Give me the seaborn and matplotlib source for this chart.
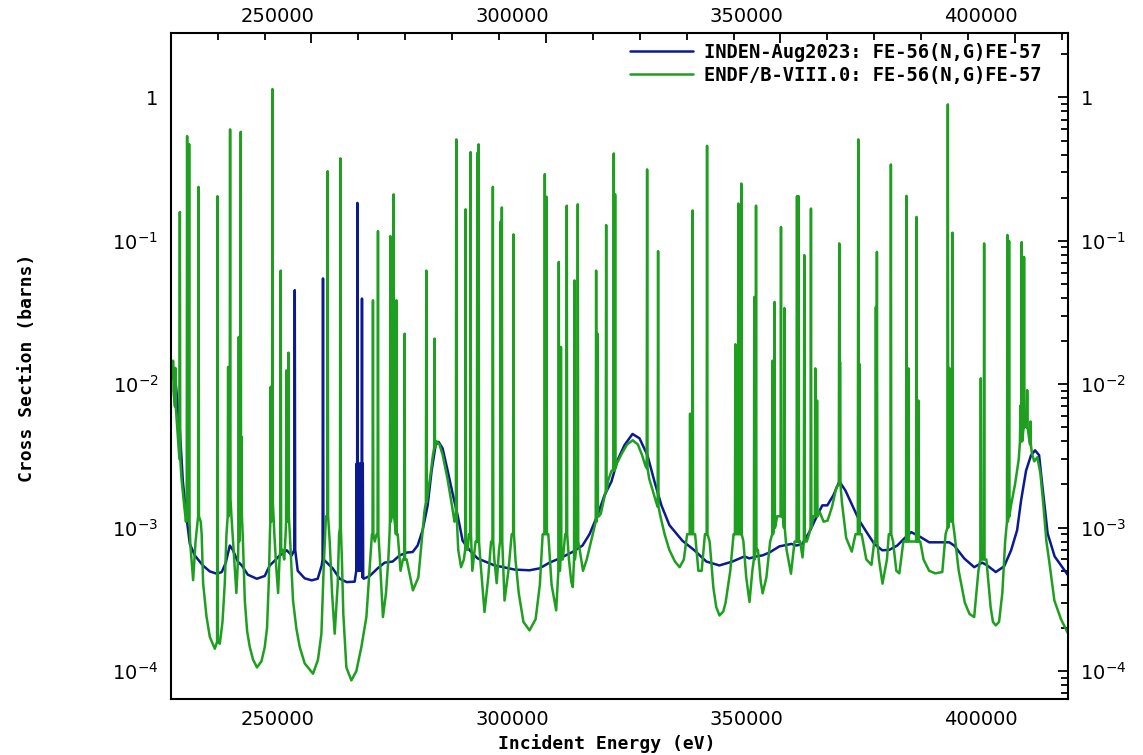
import numpy as np
import pandas as pd
import matplotlib
matplotlib.use("Agg")
import matplotlib.pyplot as plt
from matplotlib.ticker import MultipleLocator, LogLocator, NullFormatter
from matplotlib.transforms import ScaledTranslation
import seaborn as sns

# ---------------- data ----------------
# ENDF/B-VIII.0 continuum (between resonances): energy (eV), cross section (b)
endf_base_E = [220000, 220600, 221300, 222300, 222900, 223250, 224200, 224780, 225300, 226400,
               226600, 226910, 227630, 228340, 229400, 230470, 231040, 231530, 231890, 232450,
               232950, 233400, 234000, 234350, 234700, 235350, 235800, 236290, 236860, 237560,
               238400, 239350, 240050, 240540, 240900, 241150, 241500, 242100, 242500, 242900,
               243200, 243800, 244200, 244500, 244900, 245400, 246080, 246800, 247510, 248570,
               250340, 251400, 252130, 252620, 253100, 253900, 254400, 254960, 255600, 255900,
               256500, 256800, 257450, 258520, 259580, 260650, 261720, 262420, 262900, 263500,
               263900, 264600, 265250, 265900, 266400, 266650, 267150, 267900, 268400, 269000,
               269500, 270300, 271640, 272800, 273500, 274100, 274900, 275500, 275900, 276700,
               277300, 278000, 279000, 280000, 280500, 281300, 281900, 282500, 283300, 283600,
               284300, 285000, 286000, 286900, 287700, 288300, 289000, 289500, 290000, 291170,
               292000, 292700, 293500, 294200, 295200, 296500, 297800, 298700, 299300, 300500,
               301200, 302180, 302500, 303000, 303600, 304100, 304900, 305400, 305720, 306400,
               307200, 307900, 308700, 309600, 310300, 311300, 311700, 312400, 313200, 314000,
               315100, 316200, 317300, 318500, 319600, 320500, 321200, 322000, 322800, 323500,
               324400, 325300, 326300, 327500, 328500, 329400, 330100, 331800, 332500, 333200,
               333900, 334900, 335700, 336300, 337000, 337800, 338300, 339300, 340000, 342100,
               342700, 343400, 344000, 345200, 345800, 346200, 347000, 347800, 349300, 350500,
               351300, 352240, 353000, 354200, 354700, 355600, 356100, 357000, 358300, 359200,
               360040, 361000, 361900, 363100, 364000, 365200, 366000, 367300, 368300, 369400,
               370000, 371000, 371750, 372700, 373100, 374000, 374700, 375340, 376200, 377800,
               378500, 379800, 380500, 381700, 383000, 384500, 385200, 387100, 388000, 389300,
               390300, 391300, 392200, 393000, 393900, 394800, 395300, 395900, 396600, 397300,
               397900, 399100, 400000, 400800, 402200, 403000, 403600, 404100, 404770, 405400,
               406000, 406700, 407300, 408400, 409800, 411300]
endf_base_XS = [0.012, 0.009, 0.0055, 0.0022, 0.0014, 0.0011, 0.00075, 0.00043, 0.0008, 0.0011,
                0.0009, 0.00041, 0.00024, 0.000173, 0.000143, 0.000155, 0.00022, 0.00041, 0.0009, 0.0016,
                0.0012, 0.0007, 0.00035, 0.0006, 0.0012, 0.0009, 0.00031, 0.00019, 0.000147, 0.00012,
                0.000106, 0.000117, 0.000147, 0.0002, 0.00041, 0.0009, 0.0013, 0.0009, 0.00053, 0.00035,
                0.0006, 0.0007, 0.0006, 0.0009, 0.0014, 0.0009, 0.00031, 0.000197, 0.000147, 0.000113,
                0.0000958, 0.00012, 0.000182, 0.00053, 0.0012, 0.0008, 0.00035, 0.000182, 0.0004, 0.0009,
                0.0006, 0.00025, 0.000106, 0.000086, 0.0001, 0.000147, 0.000238, 0.00053, 0.0009, 0.0008,
                0.0009, 0.0006, 0.000238, 0.00035, 0.0006, 0.0009, 0.0012, 0.001, 0.0009, 0.0005,
                0.0006, 0.0006, 0.000365, 0.00045, 0.0008, 0.0013, 0.0018, 0.0025, 0.0032, 0.004,
                0.0038, 0.0032, 0.0022, 0.0014, 0.0011, 0.0007, 0.00053, 0.0006, 0.0007, 0.0009,
                0.0005, 0.0008, 0.0006, 0.000258, 0.00045, 0.0008, 0.0006, 0.00041, 0.0007, 0.00031,
                0.0005, 0.0009, 0.0006, 0.00035, 0.00022, 0.000192, 0.00023, 0.0004, 0.0009, 0.0009,
                0.0004, 0.000265, 0.0004, 0.0005, 0.0006, 0.0009, 0.0006, 0.00042, 0.000385, 0.0007,
                0.0007, 0.0005, 0.0006, 0.0008, 0.001, 0.0012, 0.00125, 0.0016, 0.0021, 0.0025,
                0.0028, 0.0033, 0.0038, 0.00407, 0.0038, 0.0032, 0.0027, 0.0022, 0.0018, 0.0015,
                0.0012, 0.0009, 0.0007, 0.00058, 0.00053, 0.0006, 0.0009, 0.0009, 0.0005, 0.0005,
                0.0009, 0.0008, 0.00038, 0.00028, 0.000244, 0.00026, 0.0003, 0.0005, 0.0009, 0.0008,
                0.00045, 0.000303, 0.0005, 0.0007, 0.00042, 0.000348, 0.00045, 0.0008, 0.0012, 0.0012,
                0.0007, 0.000477, 0.0008, 0.0008, 0.00062, 0.0008, 0.0009, 0.0012, 0.0013, 0.0011,
                0.00112, 0.0014, 0.0019, 0.0015, 0.00085, 0.00068, 0.0009, 0.0009, 0.0006, 0.00055,
                0.0008, 0.0006, 0.000407, 0.0006, 0.0009, 0.0008, 0.0005, 0.00048, 0.0008, 0.0008,
                0.0008, 0.0008, 0.0006, 0.0005, 0.00048, 0.00049, 0.0009, 0.0009, 0.0005, 0.0003,
                0.00025, 0.000238, 0.0005, 0.0006, 0.0006, 0.00028, 0.00022, 0.000208, 0.00022, 0.00035,
                0.0008, 0.0014, 0.002, 0.003, 0.0052, 0.0042, 0.0033, 0.0029, 0.0031, 0.0024,
                0.0015, 0.0008, 0.00058, 0.00031, 0.00023, 0.000183]

# ENDF/B-VIII.0 resonance peaks: energy, peak value, value at the foot of the spike
endf_peak_E = [220500, 221000, 221950, 223500, 223930, 225930, 229980, 232240, 232660, 234515,
               234940, 235090, 241330, 241690, 243460, 244680, 245100, 253470, 256180, 263120,
               264190, 266830, 267530, 268100, 269870, 274495, 276260, 280885, 282870, 283930,
               285360, 285640, 288680, 290320, 290600, 293090, 299760, 300120, 302740, 303200,
               304440, 306080, 306790, 310700, 311000, 312840, 314460, 314750, 321570, 323910,
               330730, 331280, 334350, 340380, 341020, 341650, 344420, 344790, 348320, 348740,
               350110, 350820, 353520, 353860, 355070, 356500, 357420, 357800, 362530, 362700,
               366580, 366800, 370340, 370560, 373540, 376860, 377300, 379000, 379400, 385680,
               386000, 386300, 386660, 392710, 393420, 398380, 398740, 401150, 401440, 401930,
               402600, 403300]
endf_peak_XS = [0.0146, 0.013, 0.159, 0.538, 0.473, 0.238, 0.205, 0.0132, 0.599, 0.0214,
                0.576, 0.0043, 0.0096, 1.145, 0.062, 0.0125, 0.0166, 0.306, 0.376, 0.0385,
                0.117, 0.108, 0.211, 0.0385, 0.0225, 0.062, 0.0208, 0.51, 0.166, 0.416,
                0.41, 0.471, 0.238, 0.136, 0.171, 0.111, 0.292, 0.203, 0.0713, 0.0182,
                0.176, 0.053, 0.18, 0.062, 0.0225, 0.129, 0.407, 0.211, 0.315, 0.0848,
                0.00624, 0.163, 0.46, 0.019, 0.182, 0.251, 0.0406, 0.176, 0.0146, 0.0375,
                0.125, 0.034, 0.205, 0.205, 0.0795, 0.168, 0.0129, 0.0077, 0.096, 0.0143,
                0.51, 0.0139, 0.0346, 0.0838, 0.341, 0.206, 0.0129, 0.147, 0.0077, 0.895,
                0.013, 0.0077, 0.114, 0.011, 0.096, 0.11, 0.10, 0.0071, 0.098, 0.0773,
                0.0091, 0.0055]
endf_peak_foot = [0.011, 0.007, 0.003, 0.0013, 0.0011, 0.0012, 0.00016, 0.0012, 0.0016, 0.0008,
                  0.0013, 0.0012, 0.0011, 0.0015, 0.0007, 0.0011, 0.0012, 0.0012, 0.001, 0.0009,
                  0.0009, 0.0011, 0.0012, 0.0009, 0.0006, 0.0015, 0.0036, 0.0012, 0.0007, 0.0009,
                  0.0008, 0.0008, 0.0008, 0.0008, 0.0008, 0.0009, 0.0009, 0.0009, 0.0005, 0.0006,
                  0.0009, 0.0006, 0.0008, 0.0011, 0.0012, 0.0018, 0.0025, 0.0026, 0.0026, 0.0014,
                  0.0009, 0.0009, 0.0009, 0.0009, 0.0009, 0.0009, 0.0006, 0.0007, 0.0009, 0.001,
                  0.0012, 0.001, 0.0008, 0.0008, 0.0008, 0.001, 0.0012, 0.0012, 0.002, 0.002,
                  0.0009, 0.0009, 0.0008, 0.0008, 0.0009, 0.0008, 0.0008, 0.0008, 0.0008, 0.001,
                  0.0011, 0.0012, 0.0011, 0.0006, 0.0006, 0.0011, 0.0012, 0.004, 0.004, 0.005,
                  0.005, 0.0038]

# INDEN-Aug2023 continuum
inden_base_E = [220030, 220880, 221950, 222590, 223440, 224080, 225140, 226850, 228340, 229830,
                230890, 231740, 232600, 233240, 234300, 235150, 236430, 238350, 240050, 241120,
                241970, 243250, 244740, 245800, 247080, 248570, 250060, 251340, 252190, 253050,
                254540, 256030, 257520, 259220, 261140, 262420, 264120, 265610, 267320, 268810,
                270300, 271580, 272640, 273710, 274780, 275630, 276480, 277120, 277970, 279040,
                280100, 281170, 282240, 283730, 285430, 287350, 289050, 291180, 293310, 296500,
                298640, 300770, 302900, 305660, 307790, 309290, 310990, 312480, 313970, 315250,
                316740, 318450, 319940, 321640, 323130, 324620, 326330, 329100, 331650, 334210,
                336980, 339750, 342310, 343370, 344860, 346140, 347630, 349760, 352320, 353380,
                354660, 356150, 357860, 358920, 359990, 361270, 362550, 363830, 365320, 366810,
                368090, 370000, 371710, 373200, 374900, 376390, 377880, 379590, 381720, 384910,
                385980, 387040, 389170, 391300, 393010, 394080, 395900, 397680, 399170, 400450,
                401300, 402360, 403430, 404280, 405140, 405780, 406960, 408450, 411320]
inden_base_XS = [0.0147, 0.0121, 0.0048, 0.0021, 0.00113, 0.00077, 0.00064, 0.000545, 0.000495, 0.000477,
                 0.00049, 0.00057, 0.00075, 0.0007, 0.00058, 0.000545, 0.00047, 0.00044, 0.00046, 0.000545,
                 0.00058, 0.00064, 0.000695, 0.00064, 0.0005, 0.000443, 0.000429, 0.00044, 0.000545, 0.00058,
                 0.00052, 0.00044, 0.000417, 0.00042, 0.00044, 0.00046, 0.00052, 0.00057, 0.00058, 0.00064,
                 0.00067, 0.000676, 0.00075, 0.00096, 0.00143, 0.0025, 0.00376, 0.00396, 0.00357, 0.0025,
                 0.00173, 0.00122, 0.00081, 0.000695, 0.00061, 0.000575, 0.000545, 0.000528, 0.00051, 0.000504,
                 0.00052, 0.00057, 0.00061, 0.000676, 0.00075, 0.0009, 0.00122, 0.00168, 0.0021, 0.00295,
                 0.00376, 0.0045, 0.0042, 0.0032, 0.0021, 0.00143, 0.00104, 0.00081, 0.000695, 0.00058,
                 0.000545, 0.00058, 0.00063, 0.00061, 0.00063, 0.00064, 0.00067, 0.00074, 0.00077, 0.00075,
                 0.00077, 0.00093, 0.00122, 0.00143, 0.00143, 0.00168, 0.0021, 0.00182, 0.00143, 0.00112,
                 0.00096, 0.00077, 0.000695, 0.0007, 0.00075, 0.00084, 0.00093, 0.00087, 0.00079, 0.00079,
                 0.00079, 0.00075, 0.00061, 0.00053, 0.00057, 0.000545, 0.00049, 0.000537, 0.000695, 0.00096,
                 0.00155, 0.0025, 0.0032, 0.00346, 0.0032, 0.00203, 0.00091, 0.00063, 0.000465]

# INDEN-Aug2023 resonance peaks that stand out above ENDF
inden_peak_E = [246450, 252470, 259650, 259800, 260100, 260400, 260780, 260950]
inden_peak_XS = [0.0453, 0.0547, 0.0028, 0.184, 0.0028, 0.0028, 0.0396, 0.0028]
inden_peak_foot = [0.0007, 0.0006, 0.0005, 0.0005, 0.0005, 0.0005, 0.0005, 0.00045]

x_ticks = [250000, 300000, 350000, 400000]
y_ticks = [1e-4, 1e-3, 1e-2, 1e-1, 1]
y_tick_labels = [r"$\mathregular{10^{-4}}$", r"$\mathregular{10^{-3}}$", r"$\mathregular{10^{-2}}$",
                 r"$\mathregular{10^{-1}}$", "1"]
series_names = ["INDEN-Aug2023: FE-56(N,G)FE-57", "ENDF/B-VIII.0: FE-56(N,G)FE-57"]


def build(base_E, base_XS, pk_E, pk_XS, pk_foot, half=90):
    E = list(base_E)
    S = list(base_XS)
    for e, t, f in zip(pk_E, pk_XS, pk_foot):
        E += [e - half, e, e + half]
        S += [f, t, f]
    order = np.argsort(E, kind="stable")
    return pd.DataFrame({"E": np.asarray(E, float)[order], "XS": np.asarray(S, float)[order]})


inden = build(inden_base_E, inden_base_XS, inden_peak_E, inden_peak_XS, inden_peak_foot)
endf = build(endf_base_E, endf_base_XS, endf_peak_E, endf_peak_XS, endf_peak_foot)

# ---------------- plotting ----------------
sns.set_style("white")
plt.rcParams["font.family"] = ["DejaVu Sans"]
plt.rcParams["mathtext.default"] = "regular"
plt.rcParams["text.color"] = "black"
plt.rcParams["axes.labelcolor"] = "black"
plt.rcParams["xtick.color"] = "black"
plt.rcParams["ytick.color"] = "black"

fig = plt.figure(figsize=(11.43, 7.55), dpi=100)
ax = fig.add_axes([170.7 / 1143, 1 - 699.3 / 755, (1068 - 170.7) / 1143, (699.3 - 32.7) / 755])

blue = "#0c1a92"
green = "#1f9f1f"
sns.lineplot(data=inden, x="E", y="XS", ax=ax, color=blue, lw=1.8, estimator=None, sort=False,
             label=series_names[0])
sns.lineplot(data=endf, x="E", y="XS", ax=ax, color=green, lw=1.8, estimator=None, sort=False,
             label=series_names[1])

ax.set_yscale("log")
ax.set_xlim(220000, 411300)
ax.set_ylim(6.35e-5, 2.83)

ax.set_xticks(x_ticks)
ax.set_xticklabels([str(v) for v in x_ticks])
ax.xaxis.set_minor_locator(MultipleLocator(10000))
ax.set_yticks(y_ticks)
ax.set_yticklabels(y_tick_labels)
ax.yaxis.set_minor_locator(LogLocator(base=10, subs=np.arange(2, 10)))
ax.yaxis.set_minor_formatter(NullFormatter())

for s in ax.spines.values():
    s.set_visible(True)
    s.set_linewidth(1.5)
    s.set_color("black")

ax.tick_params(which="both", direction="in", top=True, right=True, labeltop=True, labelright=True,
               color="black", labelcolor="black", width=1.3)
ax.tick_params(which="major", length=7.5)
ax.tick_params(which="minor", length=5)
ax.tick_params(axis="x", which="major", labelsize=14, pad=8)
ax.tick_params(axis="y", which="major", labelsize=14, pad=9)

shift_bottom = ScaledTranslation(3 / 100, 0, fig.dpi_scale_trans)
shift_top = ScaledTranslation(3 / 100, -4 / 100, fig.dpi_scale_trans)
for t in ax.xaxis.get_major_ticks():
    t.label1.set_horizontalalignment("right")
    t.label2.set_horizontalalignment("right")
    t.label1.set_transform(t.label1.get_transform() + shift_bottom)
    t.label2.set_transform(t.label2.get_transform() + shift_top)

mono = {"family": "DejaVu Sans Mono", "weight": "bold", "size": 13, "color": "black"}
ax.set_xlabel("Incident Energy (eV)", fontdict=mono)
ax.xaxis.set_label_coords((607 - 170.7) / 897.3, (699.3 - 744) / 666.6)
ax.xaxis.label.set_va("center")
ax.set_ylabel("Cross Section (barns)", fontdict=mono)
ax.yaxis.set_label_coords((27 - 170.7) / 897.3, (699.3 - 368) / 666.6)
ax.yaxis.label.set_va("center")

leg = ax.legend(loc="upper right", bbox_to_anchor=((1042 - 170.7) / 897.3, (699.3 - 43) / 666.6),
                frameon=False, prop={"family": "DejaVu Sans Mono", "weight": "bold", "size": 13.5},
                handlelength=3.4, handletextpad=0.6, labelspacing=0.2, borderpad=0, borderaxespad=0)
for txt in leg.get_texts():
    txt.set_color("black")

fig.savefig("out.png", dpi=100)
